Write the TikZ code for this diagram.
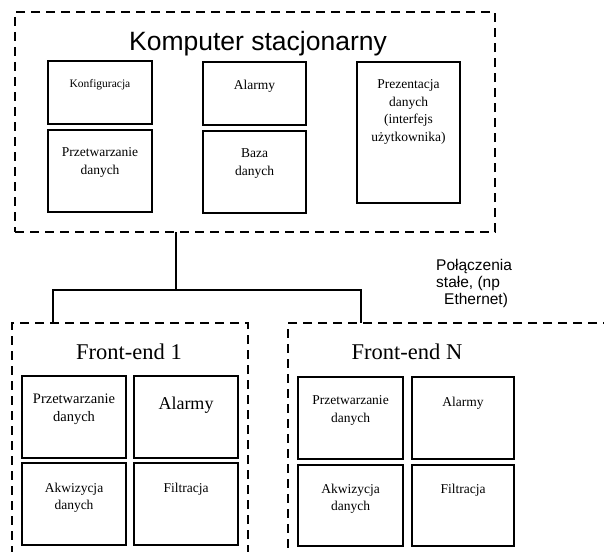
\documentclass[tikz,border=0pt]{standalone}
\usepackage{fontspec}
\setmainfont{Liberation Serif}
\setsansfont{Liberation Sans}
\begin{document}
\begin{tikzpicture}[x=1pt,y=-1pt,
  outer/.style={draw, line width=1.6pt, dash pattern=on 9pt off 6pt, inner sep=0, outer sep=0},
  box/.style={draw, line width=1.9pt, inner sep=0, outer sep=0, fill=white},
  lbl/.style={font=\fontsize{13.5}{17.5}\selectfont, align=center, inner sep=0, anchor=north},
  conn/.style={line width=1.5pt}]
\useasboundingbox (0,0) rectangle (604,551);
\clip (0,0) rectangle (604,551);
\fill[white] (0,0) rectangle (604,551);
% outer groups
\node[outer, minimum width=480, minimum height=220] (pc) at (255,122) {};
\node[outer, minimum width=236, minimum height=250] (fe1) at (130,448) {};
\node[outer, minimum width=337, minimum height=250] (feN) at (456.5,448) {};
% titles
\node[font=\sffamily\fontsize{26.5}{30}\selectfont, anchor=base, inner sep=0] (tpc) at (258,50) {Komputer stacjonarny};
\node[font=\fontsize{22.5}{26}\selectfont, anchor=base, inner sep=0] (t1) at (129,359) {Front-end 1};
\node[font=\fontsize{22.5}{26}\selectfont, anchor=base, inner sep=0] (tN) at (407,359) {Front-end N};
% computer boxes
\node[box, minimum width=104, minimum height=63] (konf) at (100,92.5) {};
\node[box, minimum width=104, minimum height=82] (przPC) at (100,171) {};
\node[box, minimum width=103, minimum height=63] (alPC) at (254.5,93.5) {};
\node[box, minimum width=103, minimum height=82] (baza) at (254.5,172) {};
\node[box, minimum width=103, minimum height=141] (prez) at (408.5,132.5) {};
\node[lbl, font=\fontsize{11.5}{15}\selectfont] at ([yshift=-18]konf.north) {Konfiguracja};
\node[lbl] at ([yshift=-17.5]przPC.north) {Przetwarzanie\\danych};
\node[lbl] at ([yshift=-17.5]alPC.north) {Alarmy};
\node[lbl] at ([yshift=-17.5]baza.north) {Baza\\danych};
\node[lbl] at ([yshift=-17.5]prez.north) {Prezentacja\\danych\\(interfejs\\użytkownika)};
% front-end 1 boxes
\node[box, minimum width=104, minimum height=82] (prz1) at (74,417) {};
\node[box, minimum width=104, minimum height=82] (al1) at (186,417) {};
\node[box, minimum width=104, minimum height=82] (akw1) at (74,504) {};
\node[box, minimum width=104, minimum height=82] (fil1) at (186,504) {};
\node[lbl, font=\fontsize{14.5}{18.5}\selectfont] at ([yshift=-17.5]prz1.north) {Przetwarzanie\\danych};
\node[lbl, font=\fontsize{18}{22}\selectfont] at ([yshift=-21]al1.north) {Alarmy};
\node[lbl] at ([yshift=-19.5]akw1.north) {Akwizycja\\danych};
\node[lbl] at ([yshift=-19.5]fil1.north) {Filtracja};
% front-end N boxes
\node[box, minimum width=105, minimum height=82] (przN) at (350.5,418) {};
\node[box, minimum width=102, minimum height=82] (alN) at (463,418) {};
\node[box, minimum width=105, minimum height=81] (akwN) at (350.5,505.5) {};
\node[box, minimum width=102, minimum height=81] (filN) at (463,505.5) {};
\node[lbl] at ([yshift=-18.5]przN.north) {Przetwarzanie\\danych};
\node[lbl] at ([yshift=-20]alN.north) {Alarmy};
\node[lbl] at ([yshift=-18.5]akwN.north) {Akwizycja\\danych};
\node[lbl] at ([yshift=-18.5]filN.north) {Filtracja};
% connectors
\coordinate (j) at (176,290);
\coordinate (l1) at (53,290);
\coordinate (r1) at (361,290);
\draw[conn] (pc.south -| j) -- (j);
\draw[conn] (l1 |- fe1.north) -- (l1) -- (r1) -- (r1 |- feN.north);
\node[font=\sffamily\fontsize{15.5}{17}\selectfont, align=left, anchor=north west, inner sep=0] (net) at (436,259) {Połączenia\\stałe, (np\\\hspace*{8pt}Ethernet)};
\end{tikzpicture}
\end{document}
